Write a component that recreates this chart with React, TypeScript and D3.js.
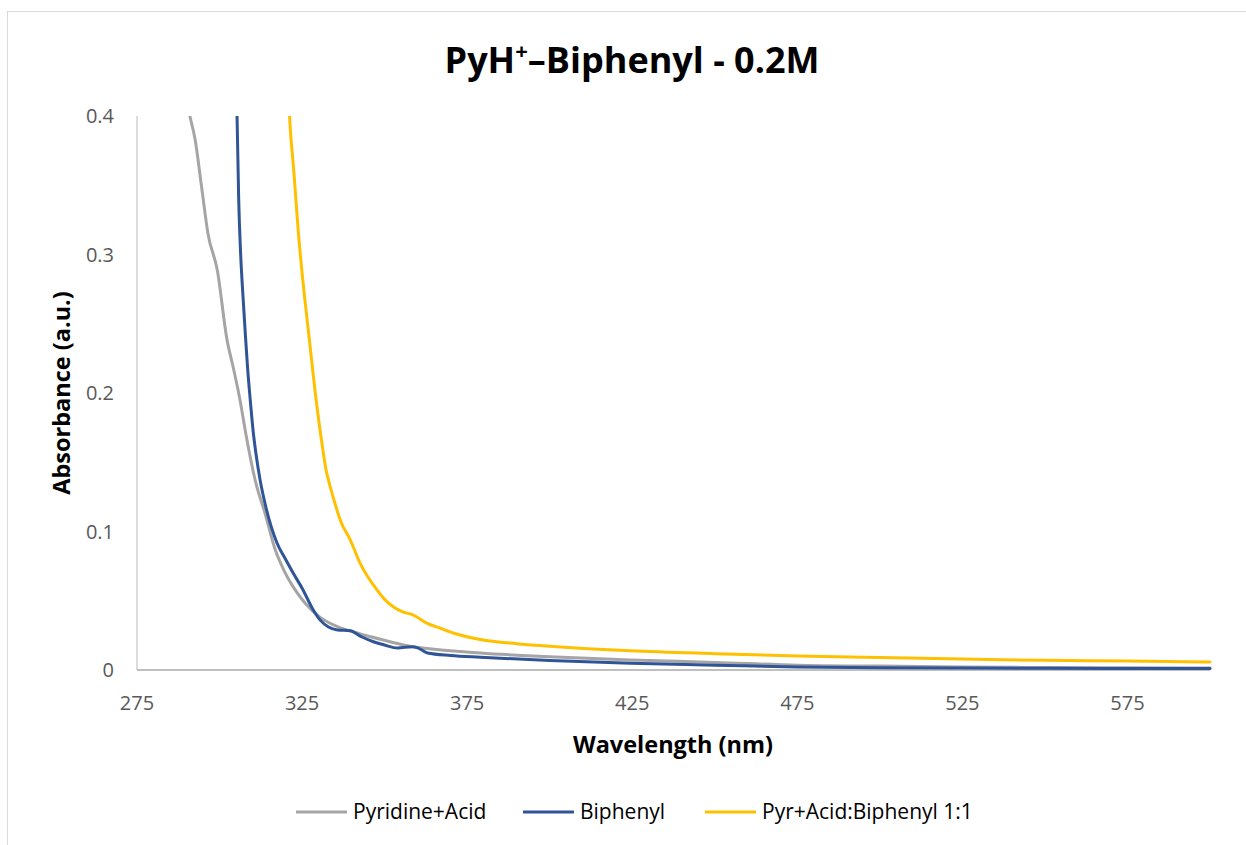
import React from "react";
import * as d3 from "d3";

const xTicks = [275, 325, 375, 425, 475, 525, 575];
const yTicks = [0, 0.1, 0.2, 0.3, 0.4];

const grayW = [288, 291, 292.6, 294.5, 296.5, 299.3, 302.3, 304, 306.2, 308, 310.8, 313.8, 316.9, 319.5, 322.3, 326, 330.5, 336, 341.7, 349, 356.9, 365, 379, 400, 424.5, 450, 475, 500, 525, 550, 575, 600];
const grayA = [0.43, 0.4, 0.383, 0.35, 0.315, 0.289, 0.238, 0.22, 0.195, 0.17, 0.137, 0.113, 0.0866, 0.072, 0.06, 0.048, 0.038, 0.031, 0.0267, 0.022, 0.0175, 0.015, 0.0123, 0.0095, 0.0072, 0.0055, 0.0035, 0.0028, 0.0022, 0.0018, 0.0016, 0.0015];

const blueW = [304.8, 305.3, 305.8, 306.4, 307.1, 307.8, 308.5, 309.3, 310.2, 311.1, 312.3, 314, 317.4, 320, 322.3, 325.3, 328, 330.5, 333, 335.7, 339.6, 343, 346.6, 350, 353.9, 358.4, 360, 363, 370, 379, 400, 424.5, 450, 475, 500, 525, 550, 575, 600];
const blueA = [0.43, 0.4, 0.34, 0.3, 0.27, 0.243, 0.218, 0.195, 0.172, 0.155, 0.137, 0.118, 0.0917, 0.08, 0.07, 0.0578, 0.045, 0.036, 0.031, 0.0289, 0.0284, 0.024, 0.0204, 0.018, 0.0159, 0.0168, 0.016, 0.0123, 0.0105, 0.0092, 0.0068, 0.0048, 0.0035, 0.0022, 0.0017, 0.0014, 0.0012, 0.0011, 0.0011];

const yellowW = [320.5, 321.2, 322.5, 323.9, 325.5, 327, 329, 331.3, 332.3, 333, 335, 336.6, 339.6, 342.6, 345, 347.7, 350, 352.6, 355.5, 358.7, 362.9, 367, 371, 379, 390, 400, 424.5, 450, 475, 500, 525, 550, 575, 600];
const yellowA = [0.44, 0.4, 0.36, 0.315, 0.275, 0.243, 0.2, 0.159, 0.144, 0.137, 0.12, 0.108, 0.094, 0.077, 0.067, 0.0578, 0.051, 0.0457, 0.042, 0.0397, 0.0337, 0.03, 0.0265, 0.022, 0.019, 0.0172, 0.0139, 0.0118, 0.0101, 0.009, 0.0079, 0.007, 0.0065, 0.0058];

const seriesNames = ["Pyridine+Acid", "Biphenyl", "Pyr+Acid:Biphenyl 1:1"];
const seriesColors = ["#A5A5A5", "#2F5597", "#FFC000"];

export default function App() {
  const W = 1246, H = 845;
  const left = 137, right = 1210, top = 116, bottom = 670;
  const x = d3.scaleLinear().domain([275, 600]).range([left, right]);
  const y = d3.scaleLinear().domain([0, 0.4]).range([bottom, top]);
  const line = d3.line<[number, number]>().x(d => x(d[0])).y(d => y(d[1])).curve(d3.curveMonotoneX);
  const series = [
    grayW.map((w, i) => [w, grayA[i]] as [number, number]),
    blueW.map((w, i) => [w, blueA[i]] as [number, number]),
    yellowW.map((w, i) => [w, yellowA[i]] as [number, number]),
  ];
  const font = "'Open Sans', sans-serif";
  const legendX = [296, 523, 705];
  return (
    <svg width={W} height={H} style={{ position: "absolute", left: 0, top: 0 }} fontFamily={font}>
      <rect x={0} y={0} width={W} height={H} fill="#fff" />
      <rect x={7.5} y={11.5} width={1260} height={860} fill="none" stroke="#D9D9D9" strokeWidth={1} />
      <defs>
        <clipPath id="plot">
          <rect x={left} y={top} width={right - left + 2} height={bottom - top} />
        </clipPath>
      </defs>
      <text x={632} y={73} textAnchor="middle" fontSize={36} fontWeight="bold" fill="#000">
        PyH<tspan fontSize={22} dy={-14}>+</tspan><tspan dy={14}>–Biphenyl - 0.2M</tspan>
      </text>
      <line x1={left} x2={left} y1={top} y2={bottom} stroke="#D0D0D0" strokeWidth={1.5} />
      <line x1={left} x2={right} y1={bottom} y2={bottom} stroke="#BFBFBF" strokeWidth={2} />
      {yTicks.map(t => (
        <text key={t} x={114} y={y(t) + 7} textAnchor="end" fontSize={20} fill="#595959">{t === 0 ? "0" : t.toFixed(1)}</text>
      ))}
      {xTicks.map(t => (
        <text key={t} x={x(t)} y={710} textAnchor="middle" fontSize={20} fill="#595959">{t}</text>
      ))}
      <g clipPath="url(#plot)">
        {series.map((s, i) => (
          <path key={i} d={line(s) || ""} fill="none" stroke={seriesColors[i]} strokeWidth={3} strokeLinejoin="round" strokeLinecap="round" />
        ))}
      </g>
      <text x={673} y={753} textAnchor="middle" fontSize={23.5} fontWeight="bold" fill="#000">Wavelength (nm)</text>
      <text transform={`translate(70,${(top + bottom) / 2}) rotate(-90)`} textAnchor="middle" fontSize={23.5} fontWeight="bold" fill="#000">Absorbance (a.u.)</text>
      {seriesNames.map((n, i) => (
        <g key={n}>
          <line x1={legendX[i]} x2={legendX[i] + 51} y1={812} y2={812} stroke={seriesColors[i]} strokeWidth={3} />
          <text x={legendX[i] + 57} y={819} fontSize={21} fill="#000">{n}</text>
        </g>
      ))}
    </svg>
  );
}
